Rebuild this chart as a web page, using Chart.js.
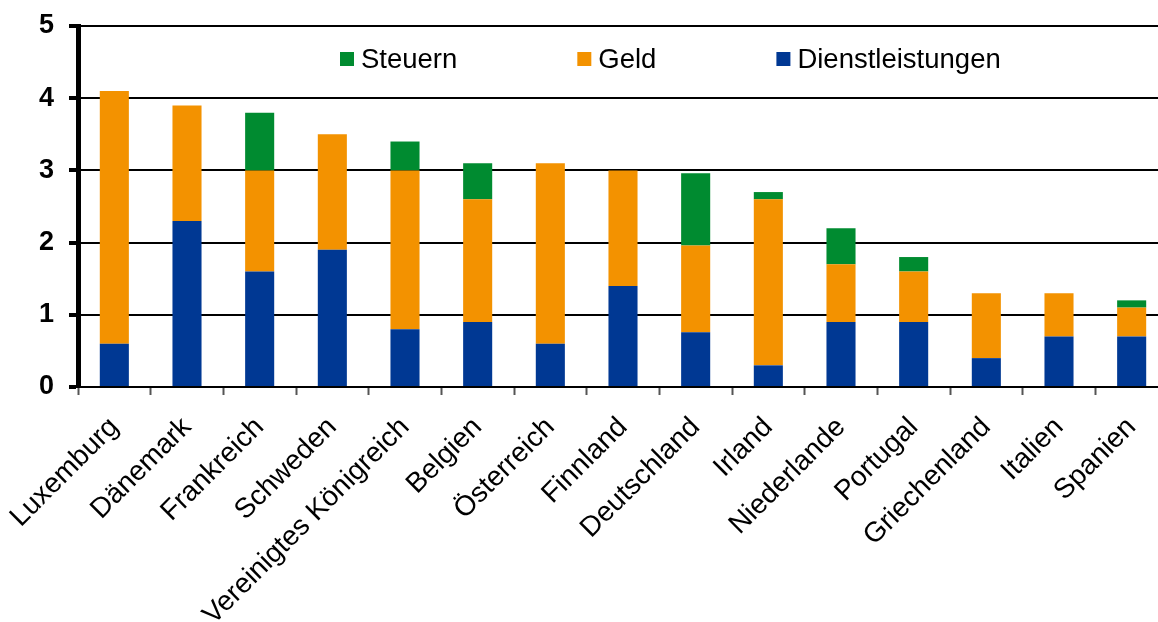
<!DOCTYPE html>
<html>
<head>
<meta charset="utf-8">
<script src="https://cdn.jsdelivr.net/npm/chart.js@4"></script>
<style>
    body { margin: 0; overflow: hidden; background: #fff; }
</style>
</head>
<body>
<canvas id="chart" width="1168" height="622"></canvas>
<script>
// Chart data
const countries = ['Luxemburg', 'Dänemark', 'Frankreich', 'Schweden', 'Vereinigtes Königreich',
    'Belgien', 'Österreich', 'Finnland', 'Deutschland', 'Irland', 'Niederlande',
    'Portugal', 'Griechenland', 'Italien', 'Spanien'];
const dienstleistungen = [0.6, 2.3, 1.6, 1.9, 0.8, 0.9, 0.6, 1.4, 0.76, 0.3, 0.9, 0.9, 0.4, 0.7, 0.7];
const geld = [3.5, 1.6, 1.4, 1.6, 2.2, 1.7, 2.5, 1.6, 1.2, 2.3, 0.8, 0.7, 0.9, 0.6, 0.4];
const steuern = [0, 0, 0.8, 0, 0.4, 0.5, 0, 0, 1.0, 0.1, 0.5, 0.2, 0, 0, 0.1];
const yTicks = [0, 1, 2, 3, 4, 5];

const FONT = "'Liberation Sans', Arial, sans-serif";

// Legend drawn inside the plot area (Steuern, Geld, Dienstleistungen)
const insideLegend = {
    id: 'insideLegend',
    afterDraw(chart) {
        const ctx = chart.ctx;
        const area = chart.chartArea;
        let x = area.left + 262;
        const y = area.top + 33;
        ctx.save();
        ctx.font = '27.5px ' + FONT;
        ctx.textBaseline = 'middle';
        ctx.textAlign = 'left';
        chart.data.datasets.slice().reverse().forEach(ds => {
            ctx.fillStyle = ds.backgroundColor;
            ctx.fillRect(x, y - 7, 14, 14);
            ctx.fillStyle = '#000';
            ctx.fillText(ds.label, x + 21, y + 1);
            x += 21 + ctx.measureText(ds.label).width + 120;
        });
        ctx.restore();
    }
};

function createChart() {
    const ctx = document.getElementById('chart');

    new Chart(ctx, {
        type: 'bar',
        data: {
            labels: countries,
            datasets: [
                { label: 'Dienstleistungen', data: dienstleistungen, backgroundColor: '#003893' },
                { label: 'Geld', data: geld, backgroundColor: '#F39200' },
                { label: 'Steuern', data: steuern, backgroundColor: '#008B30' }
            ]
        },
        options: {
            responsive: false,
            animation: false,
            layout: { padding: { top: 26, right: 0, bottom: 0, left: 0 } },
            datasets: {
                bar: { barPercentage: 0.4, categoryPercentage: 1.0 }
            },
            plugins: {
                legend: { display: false },
                tooltip: { enabled: false }
            },
            scales: {
                x: {
                    stacked: true,
                    afterFit(scale) {
                        scale.height = 235;
                        scale.paddingLeft = 0;
                        scale.paddingRight = 0;
                    },
                    grid: {
                        // only the first (left) boundary line is drawn: it's the thick y axis line
                        drawOnChartArea: true,
                        color: c => c.index === 0 ? '#000' : 'rgba(0,0,0,0)',
                        lineWidth: c => c.index === 0 ? 5 : 1,
                        drawTicks: true,
                        tickLength: 8,
                        tickWidth: 2,
                        tickColor: '#555'
                    },
                    border: { display: true, color: '#000', width: 2 },
                    ticks: {
                        color: '#000',
                        font: { family: FONT, size: 28 },
                        minRotation: 45,
                        maxRotation: 45,
                        padding: 16,
                        autoSkip: false
                    }
                },
                y: {
                    stacked: true,
                    min: 0,
                    max: 5,
                    afterFit(scale) {
                        scale.width = 78;
                        scale.paddingTop = 0;
                        scale.paddingBottom = 0;
                    },
                    afterBuildTicks(scale) {
                        scale.ticks = yTicks.map(v => ({ value: v }));
                    },
                    grid: {
                        color: '#000',
                        lineWidth: 2,
                        drawTicks: true,
                        tickLength: 9,
                        tickWidth: 4,
                        tickColor: '#000'
                    },
                    border: { display: true, color: '#000', width: 5 },
                    ticks: {
                        color: '#000',
                        font: { family: FONT, size: 27, weight: 'bold' },
                        padding: 15
                    }
                }
            }
        },
        plugins: [insideLegend]
    });
}

document.addEventListener('DOMContentLoaded', createChart);
</script>
</body>
</html>
